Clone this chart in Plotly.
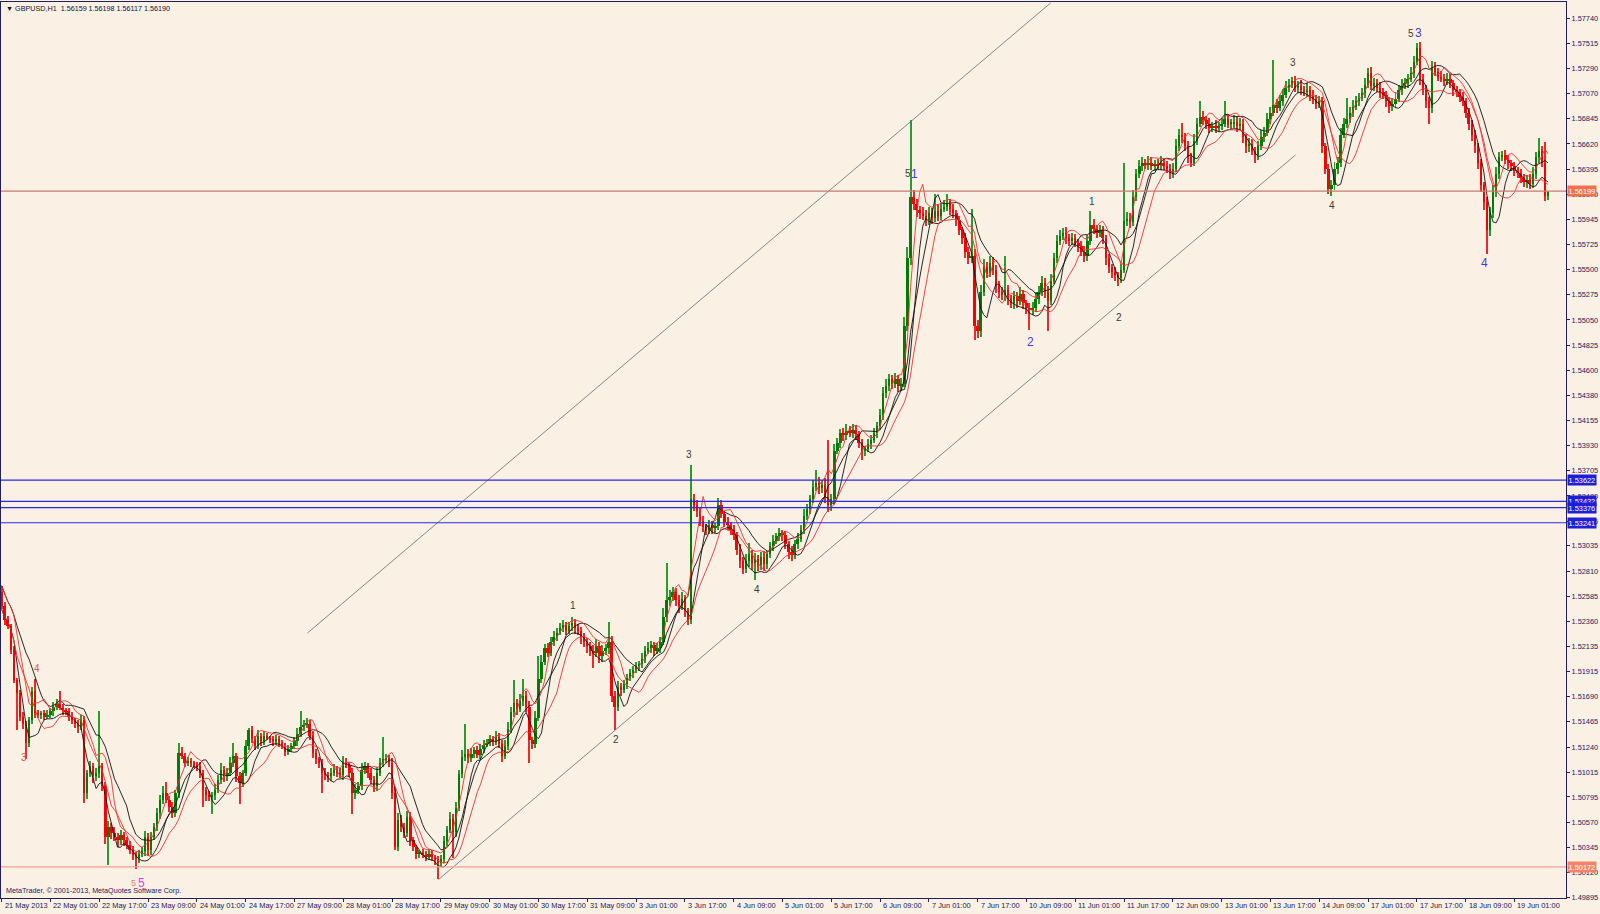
import numpy as np
import pandas as pd
import plotly.graph_objects as go

# ---------------- data (prices in 1e-4 units above 1.0000) ----------------
first_open = 5262
closes = [
    5250,5237,5232,5211,5184,5172,5151,5145,5128,5148,5174,5154,5153,5154,5151,5153,
    5156,5160,5162,5159,5157,5156,5151,5148,5145,5142,5148,5083,5101,5107,5098,5101,
    5107,5089,5044,5053,5047,5044,5041,5046,5041,5037,5032,5028,5025,5029,5031,5044,
    5032,5044,5053,5065,5077,5083,5077,5071,5065,5083,5119,5116,5110,5111,5110,5108,
    5107,5101,5086,5081,5080,5081,5086,5095,5104,5098,5101,5110,5116,5098,5092,5101,
    5125,5139,5131,5125,5134,5129,5134,5132,5131,5129,5131,5128,5125,5120,5122,5125,
    5129,5136,5142,5144,5145,5134,5119,5113,5110,5101,5099,5098,5101,5104,5101,5099,
    5110,5108,5101,5083,5086,5089,5104,5107,5101,5095,5089,5101,5110,5113,5114,5110,
    5083,5035,5059,5053,5047,5062,5041,5035,5029,5029,5028,5026,5029,5026,5024,5021,
    5024,5040,5050,5060,5048,5070,5100,5115,5118,5114,5118,5121,5117,5122,5126,5128,
    5131,5129,5133,5127,5116,5125,5140,5155,5163,5158,5165,5170,5160,5130,5127,5150,
    5185,5200,5212,5208,5218,5222,5226,5230,5233,5228,5232,5235,5230,5228,5222,5218,
    5214,5210,5208,5214,5205,5210,5212,5218,5170,5160,5178,5175,5180,5186,5190,5193,
    5196,5198,5203,5210,5212,5215,5210,5212,5218,5240,5255,5258,5262,5255,5250,5256,
    5245,5237,5345,5340,5335,5326,5320,5318,5322,5319,5321,5340,5332,5325,5322,5318,
    5313,5300,5290,5283,5290,5296,5288,5292,5286,5294,5287,5296,5303,5308,5312,5315,
    5313,5305,5298,5295,5305,5310,5318,5330,5336,5345,5356,5360,5355,5358,5347,5340,
    5345,5388,5395,5404,5402,5406,5404,5407,5403,5395,5388,5390,5394,5398,5404,5410,
    5420,5440,5446,5452,5448,5452,5446,5448,5500,5560,5615,5608,5603,5600,5598,5594,
    5600,5596,5602,5598,5604,5606,5608,5604,5600,5594,5585,5578,5566,5560,5562,5500,
    5495,5530,5552,5547,5556,5550,5535,5530,5527,5532,5524,5520,5526,5522,5528,5520,
    5516,5514,5516,5524,5530,5538,5530,5522,5540,5560,5575,5580,5583,5578,5575,5578,
    5574,5571,5566,5562,5575,5590,5586,5583,5585,5578,5560,5552,5548,5545,5542,5550,
    5593,5595,5592,5615,5635,5642,5645,5643,5645,5642,5644,5643,5645,5642,5640,5636,
    5640,5660,5670,5668,5660,5650,5645,5665,5680,5686,5683,5680,5676,5678,5676,5678,
    5680,5684,5680,5680,5682,5678,5680,5668,5660,5662,5656,5652,5660,5668,5672,5684,
    5690,5697,5694,5700,5706,5712,5715,5718,5712,5714,5710,5708,5710,5705,5702,5698,
    5700,5660,5640,5622,5625,5640,5645,5670,5680,5684,5690,5695,5700,5703,5707,5715,
    5725,5714,5716,5712,5708,5706,5700,5696,5698,5702,5710,5714,5716,5720,5725,5735,
    5748,5720,5710,5700,5694,5730,5726,5722,5720,5718,5720,5716,5710,5708,5704,5700,
    5690,5680,5670,5660,5645,5625,5610,5585,5600,5620,5635,5650,5652,5648,5645,5642,
    5638,5636,5632,5628,5630,5626,5635,5650,5656,5645,5616,5619,
]
# wick length above / below the candle body (pips)
wick_up = [
    6,3,4,2,3,2,3,4,2,3,4,11,3,2,3,4,
    3,4,5,12,3,2,3,4,2,3,5,4,3,5,3,4,
    49,3,4,5,3,6,3,4,2,3,3,4,2,3,4,5,
    3,4,3,5,4,6,10,3,4,3,9,5,3,4,3,2,
    3,4,3,2,4,3,5,4,6,3,4,5,12,3,4,3,
    5,2,4,3,5,3,4,3,2,3,4,3,2,3,4,3,
    4,5,14,4,5,3,4,3,2,3,4,3,4,5,3,4,
    6,4,3,4,5,4,6,4,3,4,3,5,4,20,4,3,
    4,5,6,4,3,5,4,3,2,3,4,3,4,3,2,3,
    4,5,4,6,4,5,4,6,27,4,5,3,4,5,4,3,
    4,3,5,4,3,5,6,5,21,4,6,15,4,5,3,6,
    20,6,4,5,4,6,4,5,4,3,4,5,3,4,3,4,
    3,4,5,6,4,5,4,18,5,4,5,3,4,3,4,3,
    4,3,5,4,6,4,3,5,4,8,33,6,5,4,5,6,
    4,3,31,5,4,3,4,3,5,4,3,6,4,3,4,3,
    4,3,5,4,6,10,4,5,3,4,5,3,4,5,3,4,
    3,4,3,5,4,5,4,6,5,4,6,11,5,4,6,51,
    5,6,5,4,5,6,4,5,4,3,4,3,5,4,5,4,
    6,5,6,5,4,6,4,5,8,10,68,6,5,4,6,5,
    6,5,15,6,5,6,9,5,4,3,4,3,5,4,42,6,
    5,6,7,5,6,5,4,5,4,30,4,3,5,4,6,4,
    3,4,5,6,5,6,4,5,6,5,6,5,4,5,4,5,
    4,3,4,5,6,12,5,4,5,4,3,4,3,4,3,5,
    52,6,5,6,5,6,5,4,6,5,4,5,6,4,5,4,
    5,6,5,11,4,5,4,6,5,14,5,4,5,4,5,4,
    5,16,5,4,6,4,5,4,3,5,4,3,5,6,5,6,
    5,40,5,6,5,6,5,4,5,4,5,4,6,4,5,4,
    5,4,3,4,5,6,5,6,5,19,5,6,5,4,5,6,
    5,6,5,4,5,4,3,4,5,6,5,6,5,4,6,5,
    4,5,4,5,4,6,5,4,5,4,5,4,3,4,3,4,
    3,4,3,4,3,4,3,5,6,5,6,5,4,5,4,3,
    4,3,4,3,4,5,6,5,11,4,19,1,
]
wick_dn = [
    3,4,3,4,3,33,4,5,15,4,3,4,3,4,3,2,
    3,4,3,2,4,3,4,3,4,5,3,9,5,4,6,4,
    5,4,6,25,5,4,6,4,5,4,3,5,10,4,3,4,
    5,4,3,4,5,4,3,5,4,3,4,3,4,3,4,3,
    4,5,15,5,4,16,4,3,4,5,4,3,4,5,19,4,
    3,4,3,4,3,4,3,2,3,4,3,4,3,4,3,2,
    3,4,3,4,3,4,5,4,5,18,4,5,4,3,4,3,
    4,3,4,19,5,4,3,4,5,4,5,4,3,4,3,4,
    5,3,4,5,4,3,5,4,5,4,3,4,3,4,5,15,
    4,3,4,3,23,4,3,4,3,4,3,4,3,4,3,2,
    3,4,3,4,5,3,4,3,4,5,3,4,5,20,5,4,
    3,4,3,4,3,4,3,2,3,4,3,4,5,4,6,5,
    6,5,13,4,6,5,4,5,6,21,4,5,3,4,3,4,
    3,4,3,4,3,4,5,3,4,3,4,5,4,5,6,4,
    5,4,3,5,6,5,4,5,4,5,4,3,4,5,4,5,
    4,5,6,5,4,5,6,15,5,4,6,4,3,4,3,4,
    5,4,6,5,3,4,3,4,3,4,3,4,5,4,5,6,
    5,4,3,4,5,4,3,4,5,4,8,4,3,4,3,4,
    3,4,5,4,5,4,5,4,3,5,6,5,6,5,4,5,
    4,5,4,5,4,3,4,5,4,5,4,5,6,5,4,13,
    6,5,4,5,4,5,6,5,4,5,6,4,5,6,4,5,
    6,18,5,4,5,4,5,27,4,3,4,3,4,5,4,3,
    4,5,4,5,4,3,4,5,4,5,6,5,6,5,7,4,
    3,4,5,3,4,3,4,3,4,3,4,3,4,3,4,5,
    4,3,4,5,4,5,4,3,4,3,4,5,4,3,4,3,
    4,3,4,5,4,5,4,5,6,5,4,7,4,3,4,3,
    4,3,4,3,4,3,4,3,4,5,4,3,4,5,4,5,
    4,6,5,5,6,4,5,4,3,4,3,4,3,4,3,4,
    3,4,5,4,5,4,5,6,5,4,3,4,3,4,3,4,
    3,5,4,6,14,4,3,4,3,4,3,4,5,4,5,4,
    5,6,5,6,5,6,7,21,5,4,5,4,3,4,5,4,
    5,4,5,4,5,4,3,4,5,4,5,4,
]

tick_labels = ["21 May 2013", "22 May 01:00", "22 May 17:00", "23 May 09:00", "24 May 01:00",
               "24 May 17:00", "27 May 09:00", "28 May 01:00", "28 May 17:00", "29 May 09:00",
               "30 May 01:00", "30 May 17:00", "31 May 09:00", "3 Jun 01:00", "3 Jun 17:00",
               "4 Jun 09:00", "5 Jun 01:00", "5 Jun 17:00", "6 Jun 09:00", "7 Jun 01:00",
               "7 Jun 17:00", "10 Jun 09:00", "11 Jun 01:00", "11 Jun 17:00", "12 Jun 09:00",
               "13 Jun 01:00", "13 Jun 17:00", "14 Jun 09:00", "17 Jun 01:00", "17 Jun 17:00",
               "18 Jun 09:00", "19 Jun 01:00"]
bars_per_tick = 16

price_ticks = [1.57740, 1.57515, 1.57290, 1.57070, 1.56845, 1.56620, 1.56395, 1.56170,
               1.55945, 1.55725, 1.55500, 1.55275, 1.55050, 1.54825, 1.54600, 1.54380,
               1.54155, 1.53930, 1.53705, 1.53480, 1.53255, 1.53035, 1.52810, 1.52585,
               1.52360, 1.52135, 1.51915, 1.51690, 1.51465, 1.51240, 1.51015, 1.50795,
               1.50570, 1.50345, 1.50120, 1.49895]

hline_prices = [1.56199, 1.50172]
hline_colors = ["#C97A6E", "#F0A28F"]
hline_label_bg = ["#F2704F", "#F58466"]
level_prices = [1.53622, 1.53432, 1.53376, 1.53241]

trend_x = [[100.3, 343.9], [143.2, 424.2]]
trend_y = [[1.52258, 1.57877], [1.50058, 1.56521]]

wave_text = ["3", "4", "5", "5", "1", "2", "3", "4", "5", "1", "2", "1", "2", "3", "4", "5", "3", "4"]
wave_bar = [7.3, 11.7, 43.4, 45.7, 187.4, 201.4, 225.5, 247.5, 297.3, 299.4, 337.4, 357.4,
            366.3, 423.3, 436.3, 462.0, 464.6, 486.3]
wave_price = [1.51143, 1.51937, 1.50031, 1.50031, 1.52499, 1.51304, 1.53846, 1.52648,
              1.56352, 1.56352, 1.54856, 1.56109, 1.55074, 1.57348, 1.56073, 1.57601,
              1.57613, 1.55556]
wave_color = ["#D9534F", "#D9534F", "#E8787A", "#E040E0", "#3A3A3A", "#3A3A3A", "#3A3A3A",
              "#3A3A3A", "#3A3A3A", "#3C3CDC", "#3C3CDC", "#3A3A3A", "#3A3A3A", "#3A3A3A",
              "#3A3A3A", "#3A3A3A", "#3C3CDC", "#3C3CDC"]
wave_size = [10, 10, 9, 12, 10, 10, 10, 10, 10, 12, 12, 10, 10, 10, 10, 10, 12, 12]

title_text = "\u25BC GBPUSD,H1  1.56159 1.56198 1.56117 1.56190"
copyright_text = "MetaTrader, \u00A9 2001-2013, MetaQuotes Software Corp."

# ---------------- derived series ----------------
n = len(closes)
idx = np.arange(n)
c = 1 + np.array(closes) / 1e4
o = 1 + np.array([first_open] + closes[:-1]) / 1e4
hi = np.maximum(o, c) + np.array(wick_up[:n]) / 1e4
lo = np.minimum(o, c) - np.array(wick_dn[:n]) / 1e4

hs = pd.Series(hi)
ls = pd.Series(lo)
red_hi = hs.rolling(5, min_periods=1).mean()
red_lo = ls.rolling(10, min_periods=1).mean()
blk_hi = hs.rolling(10, min_periods=1).mean()
blk_lo = ls.rolling(5, min_periods=1).mean()

BG = "#FBF0E4"
NAVY = "#20205A"
FONT = "Liberation Sans, Arial, sans-serif"
GREEN_BODY = "#007A00"
GREEN_WICK = "#2E9A2E"
RED_BODY = "#F50000"
RED_WICK = "#F02828"

fig = go.Figure()

bull = c >= o
bear = ~bull
body_len = np.maximum(np.abs(c - o), 0.00008)
body_base = np.minimum(o, c)

for mask, wc in [(bull, GREEN_WICK), (bear, RED_WICK)]:
    fig.add_trace(go.Bar(x=idx[mask], base=lo[mask], y=(hi - lo)[mask], width=0.33,
                         marker=dict(color=wc, line=dict(width=0)), hoverinfo="skip"))
for mask, bc in [(bull, GREEN_BODY), (bear, RED_BODY)]:
    fig.add_trace(go.Bar(x=idx[mask], base=body_base[mask], y=body_len[mask], width=0.8,
                         marker=dict(color=bc, line=dict(width=0)), hoverinfo="skip"))

for series, col in [(blk_hi, "#101010"), (blk_lo, "#101010"), (red_hi, "#F03030"), (red_lo, "#F03030")]:
    fig.add_trace(go.Scatter(x=idx, y=series, mode="lines",
                             line=dict(color=col, width=0.9), hoverinfo="skip"))

for tx, ty in zip(trend_x, trend_y):
    fig.add_trace(go.Scatter(x=tx, y=ty, mode="lines",
                             line=dict(color="#6A6A6A", width=0.8), hoverinfo="skip"))

shapes = []
for p, col in zip(hline_prices, hline_colors):
    shapes.append(dict(type="line", xref="paper", x0=0, x1=1, yref="y", y0=p, y1=p,
                       line=dict(color=col, width=1.2)))
for p in level_prices:
    shapes.append(dict(type="line", xref="paper", x0=0, x1=1, yref="y", y0=p, y1=p,
                       line=dict(color="#2828F0", width=1.2)))

annotations = []
tick_vals = [i * bars_per_tick for i in range(len(tick_labels))]
for tv, tl in zip(tick_vals, tick_labels):
    annotations.append(dict(x=tv, xref="x", y=0, yref="paper", yanchor="top", xanchor="left",
                            text=tl, showarrow=False, xshift=1, yshift=-1,
                            font=dict(family=FONT, size=7.4, color=NAVY)))
for p, bgc in zip(hline_prices, hline_label_bg):
    annotations.append(dict(x=1, xref="paper", y=p, yref="y", xanchor="left", yanchor="middle",
                            text=f"{p:.5f}", showarrow=False, xshift=1, bgcolor=bgc, borderpad=0.5,
                            font=dict(family=FONT, size=7.4, color="white")))
for p in level_prices:
    annotations.append(dict(x=1, xref="paper", y=p, yref="y", xanchor="left", yanchor="middle",
                            text=f"{p:.5f}", showarrow=False, xshift=1, bgcolor="#1E1ED8", borderpad=0.5,
                            font=dict(family=FONT, size=7.4, color="white")))
for t, b, p, col, s in zip(wave_text, wave_bar, wave_price, wave_color, wave_size):
    annotations.append(dict(x=b, y=p, xref="x", yref="y", text=t, showarrow=False,
                            font=dict(family=FONT, size=s, color=col)))
annotations.append(dict(x=0, y=1, xref="paper", yref="paper", xanchor="left", yanchor="top",
                        text=title_text, showarrow=False, xshift=3, yshift=0,
                        font=dict(family=FONT, size=7.2, color="#101030")))
annotations.append(dict(x=0, y=0, xref="paper", yref="paper", xanchor="left", yanchor="bottom",
                        text=copyright_text, showarrow=False, xshift=3, yshift=1,
                        font=dict(family=FONT, size=7.2, color=NAVY)))

fig.update_layout(
    width=1600, height=914,
    margin=dict(l=1, r=34, t=2, b=16),
    paper_bgcolor=BG, plot_bgcolor=BG,
    showlegend=False, barmode="overlay", bargap=0,
    shapes=shapes, annotations=annotations,
    xaxis=dict(range=[-0.2, 512.9], tickvals=tick_vals, showticklabels=False,
               ticks="outside", ticklen=3, tickcolor=NAVY, showgrid=False, zeroline=False,
               showline=True, mirror=True, linecolor=NAVY, linewidth=1),
    yaxis=dict(range=[1.49894, 1.57886], side="right", tickvals=price_ticks,
               ticktext=[f"{v:.5f}" for v in price_ticks],
               tickfont=dict(family=FONT, size=7.4, color=NAVY),
               ticks="outside", ticklen=3, tickcolor=NAVY, showgrid=False, zeroline=False,
               showline=True, mirror=True, linecolor=NAVY, linewidth=1),
)

fig.write_html("out.html",
               config={"displayModeBar": False},
               post_script="document.body.style.margin='0';document.body.style.padding='0';"
                           "document.body.style.background='" + BG + "';")
